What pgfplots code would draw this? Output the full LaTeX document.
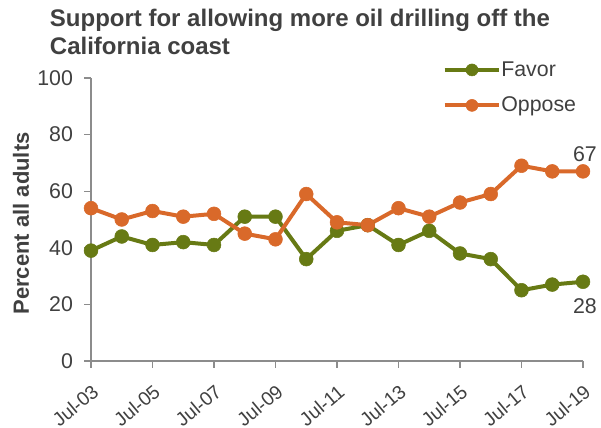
\documentclass[border=0pt]{standalone}
\usepackage{fontspec}
\setmainfont{Liberation Sans}
\usepackage{pgfplots}
\pgfplotsset{compat=1.18}
\definecolor{favor}{HTML}{677A14}
\definecolor{oppose}{HTML}{D9692A}
\definecolor{txt}{HTML}{404040}
\definecolor{axisgray}{HTML}{8C8C8C}

\begin{document}
\begin{tikzpicture}
\begin{axis}[
    scale only axis,
    width=369pt, height=212.25pt,
    xmin=0, xmax=16, ymin=0, ymax=100,
    axis x line*=bottom, axis y line*=left,
    axis line style={axisgray, line width=1pt},
    xtick={0,2,...,16},
    xticklabels={Jul-03,Jul-05,Jul-07,Jul-09,Jul-11,Jul-13,Jul-15,Jul-17,Jul-19},
    x tick label style={rotate=40, anchor=north east,
        inner sep=0pt, font=\fontsize{14.5}{16}\selectfont},
    xticklabel shift=11.5pt,
    ytick={0,20,...,100},
    y tick label style={xshift=-5pt, font=\fontsize{16}{18}\selectfont},
    tick align=outside,
    major tick length=5pt,
    tick style={axisgray, line width=1pt},
    ticklabel style={text=txt},
    /pgf/number format/assume math mode=true,
    ylabel={\textbf{Percent all adults}},
    ylabel style={at={(rel axis cs:0,0.5)}, anchor=center, yshift=52.5pt, xshift=-3pt,
        font=\fontsize{16.5}{18}\selectfont, text=txt},
    title={\textbf{Support for allowing more oil drilling off the}\\\textbf{California coast}},
    title style={at={(rel axis cs:0,1)}, anchor=south west, xshift=-31pt, yshift=11.5pt,
        align=left, font=\fontsize{18}{21}\selectfont, text=txt, inner sep=0pt},
    legend style={draw=none, fill=none, at={(rel axis cs:1,1)}, anchor=north east,
        xshift=-5pt, yshift=12.5pt, inner sep=0pt,
        font=\fontsize{16}{18}\selectfont, text=txt,
        nodes={inner sep=0pt},
        /tikz/every even column/.append style={column sep=3pt}},
    legend cell align=left,
    legend image code/.code={
        \draw[#1, mark=none, line width=3pt] (0pt,0pt) -- (41pt,0pt);
        \draw[#1, only marks, mark size=4.5pt, mark options={line width=0.4pt}] plot coordinates {(20.5pt,0pt)};
    },
    legend style={row sep=14pt},
    clip=false,
]
\coordinate (bl) at (rel axis cs:0,0);
\coordinate (tr) at (rel axis cs:1,1);
\addplot[favor, line width=3pt, mark=*, mark size=5.2pt, mark options={line width=0.4pt}] coordinates {
    (0,39) (1,44) (2,41) (3,42) (4,41) (5,51) (6,51) (7,36) (8,46)
    (9,48) (10,41) (11,46) (12,38) (13,36) (14,25) (15,27) (16,28)};
\addlegendentry{Favor}
\addplot[oppose, line width=3pt, mark=*, mark size=5.2pt, mark options={line width=0.4pt}] coordinates {
    (0,54) (1,50) (2,53) (3,51) (4,52) (5,45) (6,43) (7,59) (8,49)
    (9,48) (10,54) (11,51) (12,56) (13,59) (14,69) (15,67) (16,67)};
\addlegendentry{Oppose}
\node[anchor=south, text=txt, font=\fontsize{16}{18}\selectfont, xshift=1.5pt, yshift=4pt] at (axis cs:16,67) {67};
\node[anchor=north, text=txt, font=\fontsize{16}{18}\selectfont, xshift=1.5pt, yshift=-9pt] at (axis cs:16,28) {28};
\end{axis}
\pgfresetboundingbox
\path[use as bounding box] ([xshift=-68.25pt,yshift=-50.25pt]bl) rectangle ([xshift=13.5pt,yshift=58.5pt]tr);
\end{tikzpicture}
\end{document}
